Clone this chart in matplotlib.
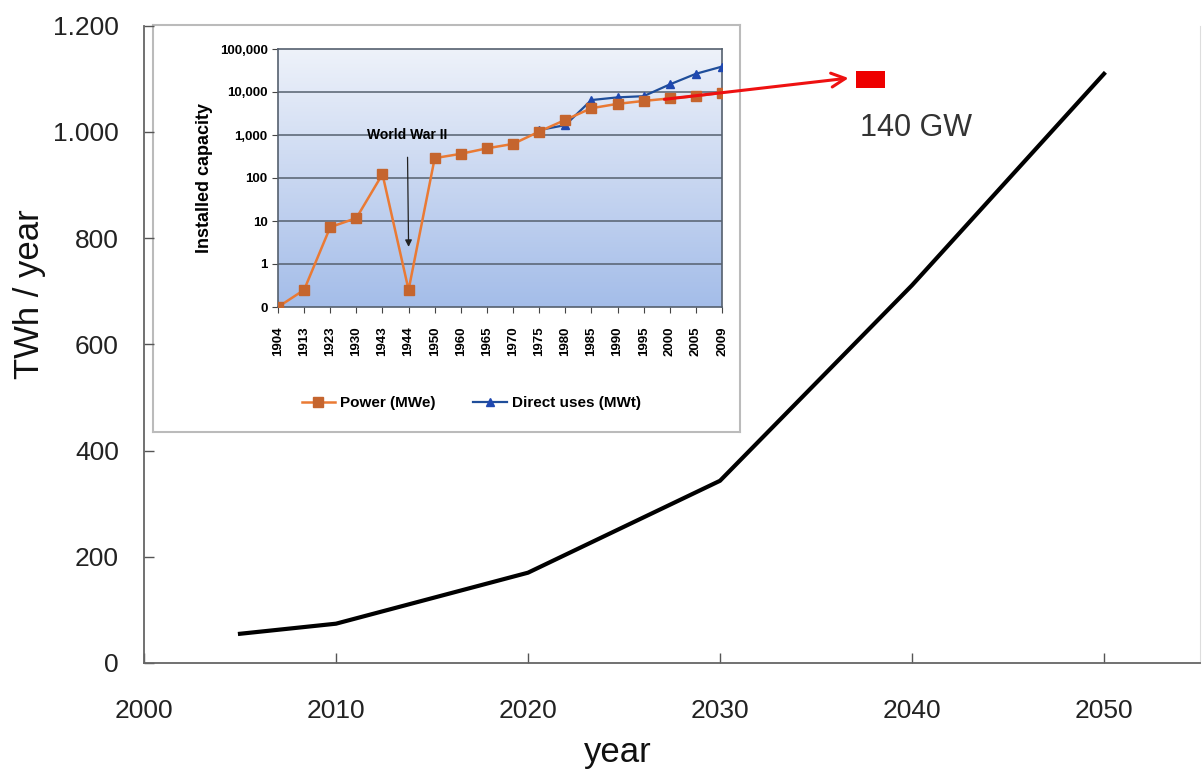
import numpy as np
import matplotlib
matplotlib.use("Agg")
from matplotlib import pyplot as plt
from matplotlib.colors import LinearSegmentedColormap
from matplotlib.patches import Rectangle
from matplotlib.ticker import FuncFormatter, FixedLocator, NullLocator

plt.rcParams['font.family'] = ['Liberation Sans', 'DejaVu Sans']

# main chart: projected geothermal electricity
years = [2005, 2010, 2020, 2030, 2040, 2050]
twh = [55, 74, 170, 343, 711, 1109]

# target marker for 2050 capacity
target_year = (2037.1, 2038.6)
target_twh = (1082, 1114)
target_label = "140 GW"
arrow_from = (2027.1, 1061)
arrow_to = (2036.7, 1101)

# inset: historical installed capacity (log scale)
hist_years = ["1904", "1913", "1923", "1930", "1943", "1944", "1950", "1960", "1965",
              "1970", "1975", "1980", "1985", "1990", "1995", "2000", "2005", "2009"]
power_mwe = [0.1, 0.25, 7.2, 11.7, 123, 0.25, 290, 365, 490,
             620, 1200, 2250, 4200, 5300, 6200, 7100, 8000, 9600]
direct_mwt = [np.nan] * 10 + [1300, 1700, 6500, 7500, 8000, 15000, 26500, 39000]


def thousands(v, pos):
    return "{:,.0f}".format(v).replace(",", ".")


def log_label(v, pos):
    if v < 1:
        return "0"
    return "{:,.0f}".format(v)


def main():
    fig = plt.figure(figsize=(12.02, 7.71), dpi=100)
    fig.patch.set_facecolor("white")

    W, H = 1202, 771

    # main axes
    ax = fig.add_axes([144 / W, (H - 663) / H, 1056 / W, 637.5 / H])
    ax.set_zorder(3)
    ax.patch.set_alpha(0)
    ax.plot(years, twh, color="black", lw=3)
    ax.set_xlim(2000, 2055)
    ax.set_ylim(0, 1200)
    ax.set_xticks(range(2000, 2051, 10))
    ax.set_yticks(range(0, 1201, 200))
    ax.yaxis.set_major_formatter(FuncFormatter(thousands))
    ax.tick_params(direction="in", length=7, width=1, color="#555555",
                   labelsize=19, labelcolor="#222222")
    ax.tick_params(axis="x", pad=26)
    ax.tick_params(axis="y", pad=18)
    for s in ["left", "bottom"]:
        ax.spines[s].set_color("#666666")
        ax.spines[s].set_linewidth(1.3)
    ax.spines["top"].set_visible(False)
    ax.spines["right"].set_color("#dddddd")
    ax.set_xlabel("year", fontsize=25, color="#111111")
    ax.set_ylabel("TWh / year", fontsize=25, color="#111111")
    ax.xaxis.set_label_coords(0.449, -0.115)
    ax.yaxis.set_label_coords(-0.093, 0.579)

    # red arrow and target box
    ax.annotate("", xy=arrow_to, xytext=arrow_from,
                arrowprops=dict(arrowstyle="->", color="#ee1111", lw=2.2,
                                mutation_scale=25, shrinkA=0, shrinkB=0))
    ax.add_patch(Rectangle((target_year[0], target_twh[0]),
                           target_year[1] - target_year[0],
                           target_twh[1] - target_twh[0],
                           color="#ee0000", lw=0))
    ax.text(target_year[0] + 0.2, 1007, target_label, fontsize=22,
            color="#333333", va="center", ha="left")

    # inset frame
    frame = fig.add_axes([153 / W, (H - 432) / H, 587 / W, 407 / H])
    frame.set_xticks([])
    frame.set_yticks([])
    frame.set_facecolor("white")
    for s in frame.spines.values():
        s.set_color("#bbbbbb")
        s.set_linewidth(1.5)

    # inset plot
    ax_in = fig.add_axes([278 / W, (H - 307) / H, 444 / W, 258 / H])
    x = np.arange(len(hist_years))
    grad = np.linspace(0, 1, 256).reshape(-1, 1)
    cmap = LinearSegmentedColormap.from_list("bg", ["#eef2fa", "#c9d7f1", "#a4bde9"])
    ax_in.imshow(grad, extent=[0, 1, 0, 1], transform=ax_in.transAxes,
                 aspect="auto", cmap=cmap, zorder=0)
    ax_in.set_yscale("log")
    ax_in.set_ylim(0.1, 100000)
    ax_in.set_xlim(0, len(hist_years) - 1)
    for g in [1, 10, 100, 1000, 10000]:
        ax_in.axhline(g, color="#55606e", lw=1.1, zorder=1)

    ax_in.plot(x, direct_mwt, color="#1f4e9a", lw=1.6, marker="^",
               markersize=6, markerfacecolor="#1f48b0", markeredgecolor="#1f48b0",
               zorder=3, label="Direct uses (MWt)")
    ax_in.plot(x, power_mwe, color="#ea7a34", lw=1.8, marker="s",
               markersize=6.5, markerfacecolor="#c5652e", markeredgecolor="#c5652e",
               zorder=4, label="Power (MWe)")

    ax_in.yaxis.set_major_locator(FixedLocator([0.1, 1, 10, 100, 1000, 10000, 100000]))
    ax_in.yaxis.set_minor_locator(NullLocator())
    ax_in.yaxis.set_major_formatter(FuncFormatter(log_label))
    ax_in.set_xticks(x)
    ax_in.set_xticklabels(hist_years, rotation=90, fontweight="bold")
    ax_in.tick_params(axis="both", direction="out", length=4, color="#444444",
                      labelsize=9.5)
    ax_in.tick_params(axis="x", pad=10)
    for lab in ax_in.get_yticklabels():
        lab.set_fontweight("bold")
    for s in ax_in.spines.values():
        s.set_color("#55606e")
        s.set_linewidth(1.2)
    ax_in.set_ylabel("Installed capacity", fontsize=13, fontweight="bold", labelpad=5)

    ax_in.annotate("World War II", xy=(5, 2.5), xytext=(4.95, 1000),
                   ha="center", va="center", fontsize=10, fontweight="bold",
                   arrowprops=dict(arrowstyle="-|>", color="#222222", lw=0.9,
                                   mutation_scale=10, shrinkA=9, shrinkB=0))

    handles, labels = ax_in.get_legend_handles_labels()
    ax_in.legend(handles[::-1], labels[::-1], loc="center",
                 bbox_to_anchor=(0.435, -0.372), ncol=2, frameon=False,
                 prop={"weight": "bold", "size": 11}, handlelength=2.2,
                 columnspacing=2.5, handletextpad=0.3)

    fig.savefig("out.png", dpi=100, facecolor="white")


if __name__ == "__main__":
    main()
